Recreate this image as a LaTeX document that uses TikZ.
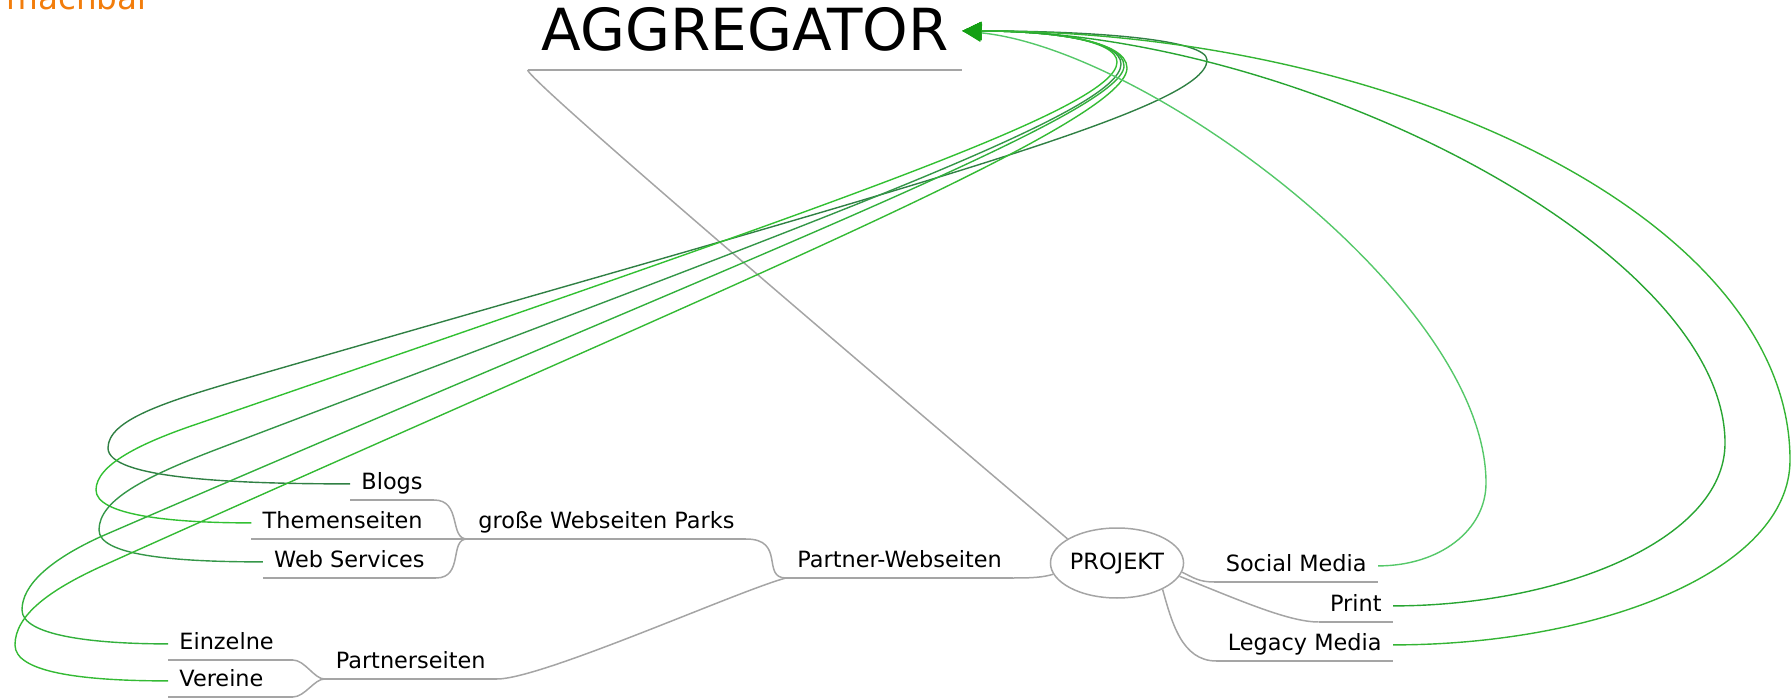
\documentclass[tikz,border=0pt]{standalone}
\usepackage{fontspec}
\setmainfont{DejaVu Sans}
\usetikzlibrary{shapes.geometric,arrows.meta}
\definecolor{branchgray}{RGB}{165,165,165}
\definecolor{tipgreen}{RGB}{20,160,20}
\definecolor{bloggreen}{RGB}{48,128,68}
\definecolor{themengreen}{RGB}{50,192,50}
\definecolor{websvcgreen}{RGB}{52,150,72}
\definecolor{einzelgreen}{RGB}{50,176,60}
\definecolor{vereingreen}{RGB}{52,186,52}
\definecolor{socialgreen}{RGB}{85,200,105}
\definecolor{printgreen}{RGB}{40,165,50}
\definecolor{legacygreen}{RGB}{52,180,52}
\definecolor{hintorange}{RGB}{242,125,12}
\newcommand{\topicfont}{\fontsize{11.2}{13}\selectfont}

\begin{document}
\begin{tikzpicture}[x=0.5pt,y=-0.5pt]
    \tikzstyle{topic}=[inner xsep=5.5pt,inner ysep=2.2pt,text height=8.5pt,text depth=2.8pt,font=\topicfont]
    \tikzstyle{branch}=[draw=branchgray,line width=0.75pt]
    \tikzstyle{feed}=[line width=0.7pt,-{Triangle[length=9.5pt,width=9pt,color=tipgreen]}]
    \useasboundingbox (0,0) rectangle (1791,699);

    \node[anchor=base west,inner sep=0pt,text=hintorange,font=\fontsize{16.3}{19}\selectfont] (hint) at (6,10) {machbar};
    \node[topic,anchor=south,inner xsep=6.75pt,text height=22pt,text depth=7.25pt,font=\fontsize{29}{34}\selectfont] (agg) at (745,70) {AGGREGATOR};
    \coordinate (aggin) at ([yshift=2.5pt]agg.east);

    \node[topic,anchor=south east] (blogs) at (434,500) {Blogs};
    \node[topic,anchor=south east] (themen) at (434,539) {Themenseiten};
    \node[topic,anchor=south east] (websvc) at (436,578) {Web Services};
    \node[topic,anchor=south west] (parks) at (467,539) {große Webseiten Parks};
    \node[topic,anchor=south west,text width=51pt,align=left] (einzelne) at (168,660) {Einzelne};
    \node[topic,anchor=south west,text width=51pt,align=left] (vereine) at (168,697) {Vereine};
    \node[topic,anchor=south east] (partnerseiten) at (497,679) {Partnerseiten};
    \node[topic,anchor=south west] (partnerweb) at (786,578) {Partner-Webseiten};
    \node[ellipse,draw=branchgray,line width=0.75pt,inner sep=0pt,minimum width=64pt,minimum height=35pt,font=\topicfont] (projekt) at (1117,563) {PROJEKT};
    \node[topic,anchor=south east] (social) at (1378,582) {Social Media};
    \node[topic,anchor=south east] (print) at (1393,622) {Print};
    \node[topic,anchor=south east] (legacy) at (1393,661) {Legacy Media};

    \foreach \n in {agg,blogs,themen,websvc,parks,einzelne,vereine,partnerseiten,partnerweb,social,print,legacy}
        \draw[branch] (\n.south west) -- (\n.south east);

    \draw[branch] (blogs.south east) .. controls +(28,0) and +(-18,0) .. (parks.south west);
    \draw[branch] (themen.south east) -- (parks.south west);
    \draw[branch] (websvc.south east) .. controls +(28,0) and +(-18,0) .. (parks.south west);
    \draw[branch] (einzelne.south east) .. controls +(12,0) and +(-10,0) .. (partnerseiten.south west);
    \draw[branch] (vereine.south east) .. controls +(12,0) and +(-10,0) .. (partnerseiten.south west);
    \draw[branch] (parks.south east) .. controls +(40,0) and +(-25,0) .. (partnerweb.south west);
    \draw[branch] (partnerseiten.south east) .. controls +(45,0) and +(-46,12) .. (partnerweb.south west);
    \draw[branch] (partnerweb.south east) .. controls +(20,0) and +(-10,3) .. (projekt.190);
    \draw[branch] (agg.south west) .. controls +(2,14) and +(-10,-9) .. (projekt.154);
    \draw[branch] (projekt.-8) .. controls +(12,6) and +(-15,0) .. (social.south west);
    \draw[branch] (projekt.-12) .. controls +(60,24) and +(-30,0) .. (print.south west);
    \draw[branch] (projekt.-30) .. controls +(9,32) and +(-35,0) .. (legacy.south west);

    \draw[feed,bloggreen] (blogs.west) .. controls +(-122,0) and (108,478) .. (108,448)
        .. controls (108,420) and (165,402) .. (240,380)
        .. controls (900,189) and (1207,110) .. (1207,60)
        .. controls (1207,40) and (1100,31) .. (aggin);
    \draw[feed,themengreen] (themen.west) .. controls +(-82,0) and (96,515) .. (96,490)
        .. controls (96,465) and (140,443) .. (200,423)
        .. controls (840,202) and (1117,108) .. (1117,62)
        .. controls (1117,40) and (1050,31) .. (aggin);
    \draw[feed,websvcgreen] (websvc.west) .. controls +(-92,0) and (99,555) .. (99,530)
        .. controls (99,500) and (145,477) .. (215,450)
        .. controls (835,214) and (1121,112) .. (1121,64)
        .. controls (1121,40) and (1050,31) .. (aggin);
    \draw[feed,einzelgreen] (einzelne.west) .. controls +(-78,0) and (22,635) .. (22,610)
        .. controls (22,585) and (50,560) .. (100,537)
        .. controls (740,260) and (1124,114) .. (1124,66)
        .. controls (1124,40) and (1050,31) .. (aggin);
    \draw[feed,vereingreen] (vereine.west) .. controls +(-88,0) and (15,672) .. (15,645)
        .. controls (15,615) and (50,590) .. (100,567)
        .. controls (700,297) and (1127,125) .. (1127,68)
        .. controls (1127,40) and (1050,31) .. (aggin);
    \draw[feed,socialgreen] (social.east) .. controls +(62,0) and (1486,530) .. (1486,483)
        .. controls (1486,300) and (1150,50) .. (aggin);
    \draw[feed,printgreen] (print.east) .. controls +(167,0) and (1725,540) .. (1725,443)
        .. controls (1725,250) and (1300,31) .. (aggin);
    \draw[feed,legacygreen] (legacy.east) .. controls +(207,0) and (1790,570) .. (1790,460)
        .. controls (1790,220) and (1400,31) .. (aggin);
\end{tikzpicture}
\end{document}
